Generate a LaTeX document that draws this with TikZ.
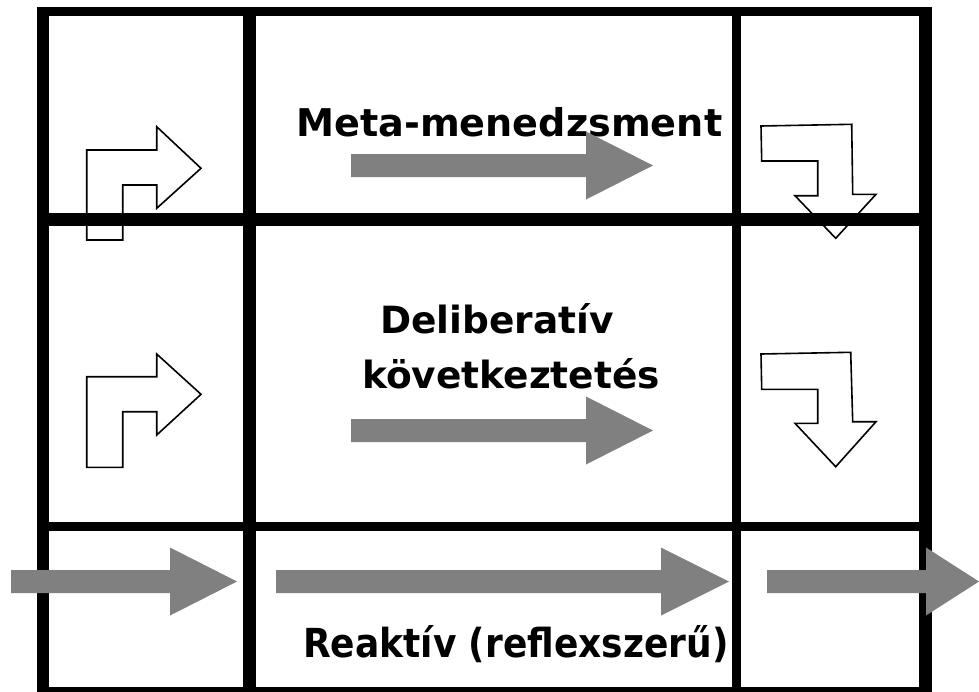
\documentclass[tikz,border=0pt]{standalone}
\usepackage{fontspec}
\newfontfamily\headfont{DejaVu Sans}
\newfontfamily\basefont{DejaVu Sans Condensed}
\definecolor{arrowgray}{RGB}{128,128,128}

% Grey block arrow: #1 tail x, #2 head base x, #3 tip x, #4 centre y
\newcommand\blockarrow[4]{%
  \fill[arrowgray] (#1,#4-11.5) -- (#2,#4-11.5) -- (#2,#4-34) -- (#3,#4)
    -- (#2,#4+34) -- (#2,#4+11.5) -- (#1,#4+11.5) -- cycle;}

\begin{document}
\begin{tikzpicture}[x=1pt,y=-1pt,
  outlinearrow/.style={draw=black,line width=1.6pt,fill=white,line join=miter},
  gridline/.style={draw=black,line cap=butt},
  txt/.style={inner sep=0pt,anchor=base west,text=black}]
\useasboundingbox (0,0) rectangle (979,691);
\clip (0,0) rectangle (979,691);

% bent outline arrows on the left (turning right)
\draw[outlinearrow] (86.7,240) -- (86.7,150) -- (156.7,150) -- (156.7,126.7)
  -- (201,168.3) -- (156.7,208.3) -- (156.7,185) -- (122.7,185) -- (122.7,240) -- cycle;
\draw[outlinearrow] (86.7,467.3) -- (86.7,376.7) -- (156.7,376.7) -- (156.7,354)
  -- (201,394.3) -- (156.7,435) -- (156.7,411.7) -- (122.7,411.7) -- (122.7,467.3) -- cycle;

% bent outline arrows on the right (turning down)
\draw[outlinearrow] (761,126) -- (851.7,124.3) -- (852.7,194.3) -- (876,194.3)
  -- (835.7,238.3) -- (795,195.7) -- (817.7,195.7) -- (817.7,161) -- (761.7,161) -- cycle;
\draw[outlinearrow] (761,354) -- (850.7,352.3) -- (852.7,421.7) -- (876,421.7)
  -- (835.7,466.7) -- (795,423.3) -- (817.7,423.3) -- (817.7,389.3) -- (761.7,389.3) -- cycle;

% grid: horizontal rules
\draw[gridline,line width=9pt]  (37,11.5)  -- (932,11.5);
\draw[gridline,line width=13pt] (37,219.5) -- (932,219.5);
\draw[gridline,line width=9pt]  (37,526.5) -- (932,526.5);
\draw[gridline,line width=9pt]  (37,691)   -- (932,691);
% grid: vertical rules
\draw[gridline,line width=12pt] (43,7)    -- (43,695.5);
\draw[gridline,line width=13pt] (249.5,7) -- (249.5,695.5);
\draw[gridline,line width=9pt]  (736.5,7) -- (736.5,695.5);
\draw[gridline,line width=13pt] (925.5,7) -- (925.5,695.5);

% layer labels
\node[txt,font=\headfont\bfseries\fontsize{38.2}{44}\selectfont] (meta) at (296,136) {Meta-menedzsment};
\node[txt,font=\headfont\bfseries\fontsize{37.5}{44}\selectfont] (delib) at (380,333) {Deliberatív};
\node[txt,font=\headfont\bfseries\fontsize{37.5}{44}\selectfont] (kovet) at (362,388) {következtetés};
\node[txt,font=\basefont\bfseries\fontsize{40}{48}\selectfont] (reakt) at (303,657) {Reaktív (reflexszerű)};

% grey flow arrows
\blockarrow{351}{586}{653}{165.5}
\blockarrow{351}{586}{653}{430.5}
\blockarrow{11}{170}{237}{581.5}
\blockarrow{276}{661}{729}{581.5}
\blockarrow{767}{926}{979}{581.5}
\end{tikzpicture}
\end{document}
